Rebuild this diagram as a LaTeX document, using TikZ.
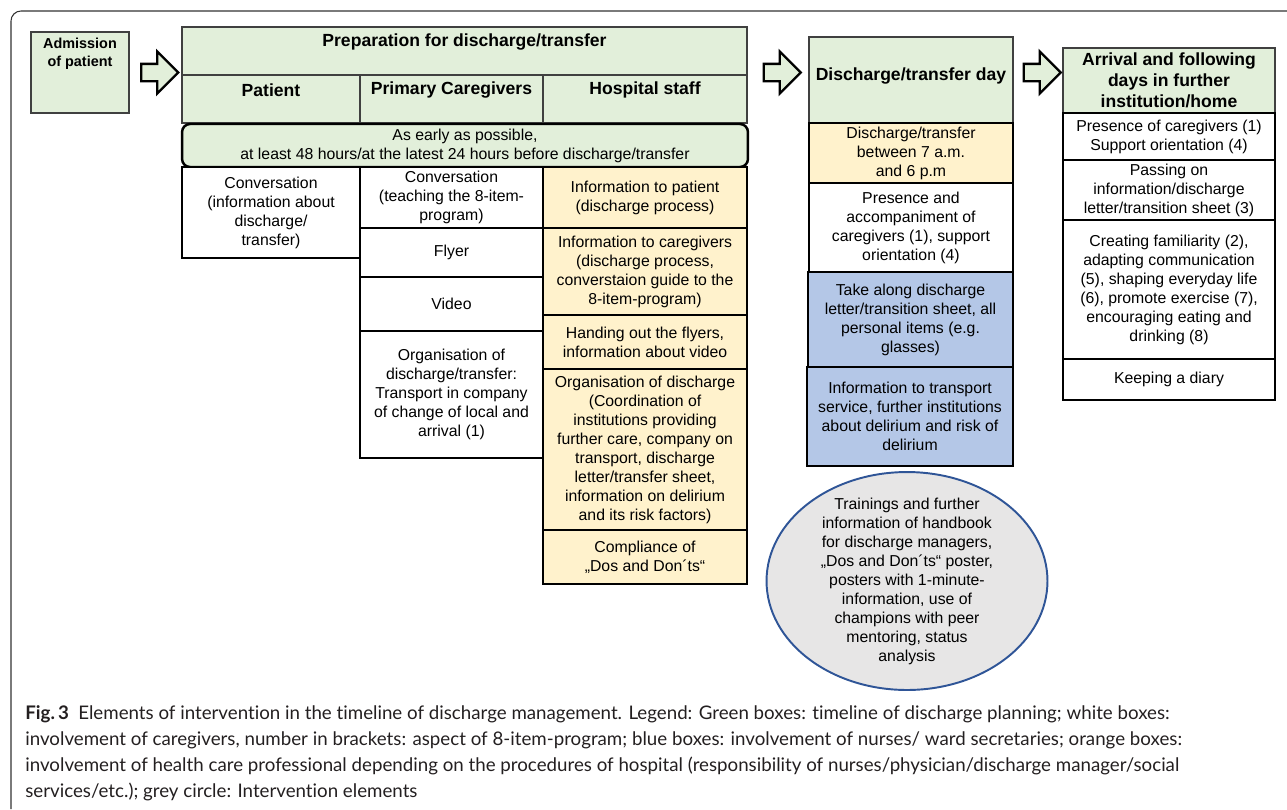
\documentclass[tikz,border=0pt]{standalone}
\usepackage{fontspec}
\setmainfont{Liberation Sans}
\newfontfamily\capfont[Ligatures=NoCommon]{Lato}
\usepackage{xcolor}
\usetikzlibrary{positioning,calc,shapes.geometric,shapes.arrows}

\definecolor{plangreen}{HTML}{E2EFDA}
\definecolor{staffbeige}{HTML}{FFF2CC}
\definecolor{nurseblue}{HTML}{B4C7E7}
\definecolor{circgrey}{HTML}{E7E6E6}
\definecolor{circedge}{HTML}{2F5597}
\definecolor{captext}{HTML}{231F20}

\tikzset{
  cellsize/.style 2 args={minimum width=#1cm, minimum height=#2cm},
  hdr/.style={draw=black!75, line width=0.8pt, fill=plangreen, inner sep=0pt,
    align=center, font=\bfseries},
  hdrtxt/.style={font=\bfseries, align=center, inner sep=0pt},
  cellbox/.style={draw=black, line width=1.4pt, fill=white, inner sep=0pt, align=center},
  staff/.style={cellbox, fill=staffbeige},
  nurse/.style={cellbox, fill=nurseblue},
  nextarrow/.style={single arrow, draw=black, line width=1.3pt, fill=plangreen,
    minimum width=0.72cm, minimum height=0.74cm, inner xsep=0pt, inner ysep=0.15cm},
}

\begin{document}
\begin{tikzpicture}[x=0.02cm, y=-0.02cm, font=\fontsize{9}{10.8}\selectfont]
  \useasboundingbox (0,0) rectangle (1287,809);
  % ---- frame of the figure
  \draw[black!80, line width=0.6pt, rounded corners=0.2cm] (11,809) -- (11,11) -- (1287,11);

  % ---- admission
  \node[hdr, cellsize={1.96}{1.62}] (adm) at (80,72.5) {};
  \node[hdrtxt, font=\bfseries\fontsize{8.2}{10.4}\selectfont] (admtxt) at (80,54) {Admission\\of patient};

  % ---- preparation for discharge/transfer
  \node[hdr, cellsize={11.3}{0.96}] (prep) at (464.5,51) {};
  \node[hdr, cellsize={3.56}{0.96}] (hpat) at (271,99) {};
  \node[hdr, cellsize={3.66}{0.96}] (hcare) at (451.5,99) {};
  \node[hdr, cellsize={4.08}{0.96}] (hstaff) at (645,99) {};
  \node[hdrtxt] (preptxt) at (464.5,42) {Preparation for discharge/transfer};
  \node[hdrtxt] (pattxt) at (271,90) {Patient};
  \node[hdrtxt] (caretxt) at (451.5,90) {Primary Caregivers};
  \node[hdrtxt] (stafftxt) at (645,90) {Hospital staff};
  \node[cellbox, fill=plangreen, rounded corners=0.16cm, cellsize={11.32}{0.86}] (early) at (465,145.5)
    {As early as possible,\\at least 48 hours/at the latest 24 hours before discharge/transfer};
  % patient
  \node[cellbox, cellsize={3.56}{1.82}] (pconv) at (271,212.5) {Conversation\\(information about\\discharge/\\transfer)};
  % caregivers
  \node[cellbox, cellsize={3.66}{1.22}] (cconv) at (451.5,197.5) {Conversation\\(teaching the 8-item-\\program)};
  \node[cellbox, cellsize={3.66}{0.98}] (flyer) at (451.5,252.5) {Flyer};
  \node[cellbox, cellsize={3.66}{1.08}] (video) at (451.5,304) {Video};
  \node[cellbox, cellsize={3.66}{2.54}] (corg) at (451.5,394.5) {Organisation of\\discharge/transfer:\\Transport in company\\of change of local and\\arrival (1)};
  % hospital staff
  \node[staff, cellsize={4.08}{1.22}] (sinfo) at (645,197.5) {Information to patient\\(discharge process)};
  \node[staff, cellsize={4.08}{1.74}] (scare) at (645,271.5) {Information to caregivers\\(discharge process,\\converstaion guide to the\\8-item-program)};
  \node[staff, cellsize={4.08}{1.08}] (shand) at (645,342) {Handing out the flyers,\\information about video};
  \node[staff, cellsize={4.08}{3.22}] (sorg) at (645,449.5) {Organisation of discharge\\(Coordination of\\institutions providing\\further care, company on\\transport, discharge\\letter/transfer sheet,\\information on delirium\\and its risk factors)};
  \node[staff, cellsize={4.08}{1.08}] (scomp) at (645,557) {Compliance of\\„Dos and Don´ts“};

  % ---- discharge/transfer day
  \node[hdr, cellsize={4.08}{1.72}] (dday) at (911,80) {};
  \node[hdrtxt] (ddaytxt) at (911,76) {Discharge/transfer day};
  \node[staff, cellsize={4.08}{1.2}] (dtime) at (911,153) {Discharge/transfer\\between 7 a.m.\\and 6 p.m};
  \node[cellbox, cellsize={4.08}{1.78}] (dcare) at (911,227.5) {Presence and\\accompaniment of\\caregivers (1), support\\orientation (4)};
  \node[nurse, cellsize={4.1}{1.9}] (dtake) at (910.5,319.5) {Take along discharge\\letter/transition sheet, all\\personal items (e.g.\\glasses)};
  \node[nurse, cellsize={4.12}{1.98}] (dinfo) at (910,416.5) {Information to transport\\service, further institutions\\about delirium and risk of\\delirium};
  \node[ellipse, draw=circedge, line width=1.1pt, fill=circgrey, minimum width=5.62cm,
    minimum height=4.36cm, inner sep=0pt] (train) at (907,581) {};
  \node[align=center, inner sep=0pt] (traintxt) at (train.center) {Trainings and further\\information of handbook\\for discharge managers,\\„Dos and Don´ts“ poster,\\posters with 1-minute-\\information, use of\\champions with peer\\mentoring, status\\analysis};

  % ---- arrival in further institution/home
  \node[hdr, cellsize={4.24}{1.3}] (arr) at (1169,80.5) {Arrival and following\\days in further\\institution/home};
  \node[cellbox, cellsize={4.24}{0.94}] (apres) at (1169,136.5) {Presence of caregivers (1)\\Support orientation (4)};
  \node[cellbox, cellsize={4.24}{1.2}] (apass) at (1169,190) {Passing on\\information/discharge\\letter/transition sheet (3)};
  \node[cellbox, cellsize={4.24}{2.78}] (afam) at (1169,289.5) {Creating familiarity (2),\\adapting communication\\(5), shaping everyday life\\(6), promote exercise (7),\\encouraging eating and\\drinking (8)};
  \node[cellbox, cellsize={4.24}{0.82}] (adiary) at (1169,379.5) {Keeping a diary};

  % ---- block arrows between the phases
  \node[nextarrow] (ar1) at ($(adm.east)!0.5!(prep.west |- adm.east)$) {};
  \node[nextarrow] (ar2) at ($(prep.east |- ar1)!0.5!(dday.west |- ar1)$) {};
  \node[nextarrow] (ar3) at ($(dday.east |- ar1)!0.5!(arr.west |- ar1)$) {};

  % ---- caption
  \node[anchor=north west, align=left, inner sep=0pt, text=captext,
    font=\capfont\fontsize{10.65}{14.8}\selectfont] (cap) at (25,705)
    {\textbf{Fig.\,3}\enspace Elements of intervention in the timeline of discharge management. Legend: Green boxes: timeline of discharge planning; white boxes:\\
     involvement of caregivers, number in brackets: aspect of 8-item-program; blue boxes: involvement of nurses/ ward secretaries; orange boxes:\\
     involvement of health care professional depending on the procedures of hospital (responsibility of nurses/physician/discharge manager/social\\
     services/etc.); grey circle: Intervention elements};
\end{tikzpicture}
\end{document}
